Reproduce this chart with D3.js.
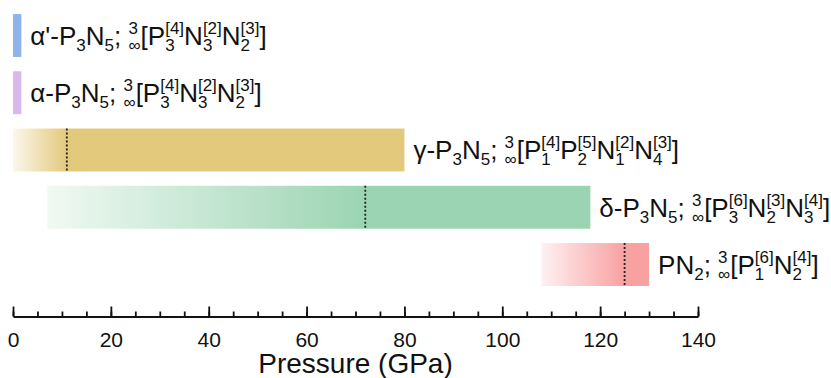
<!DOCTYPE html>
<html>
<head>
<meta charset="utf-8">
<script src="https://cdn.jsdelivr.net/npm/d3@7"></script>
<style>
  body { margin: 0; background: #fff; }
  svg { display: block; font-family: "Liberation Sans", Arial, sans-serif; }
</style>
</head>
<body>
<div id="chart"></div>
<script>
// phases, pressure ranges (GPa) and the pressure where each one is fully formed
const phases = ["a1", "a0", "g", "d", "pn2"];
const rangeStart = [0, 0, 0, 7, 108];
const rangeEnd = [1.7, 1.7, 80, 118, 130];
const fadeEnd = [null, null, 11, 72, 125];
const colors = ["#8db5ea", "#d7b9ee", "#e3c97c", "#9bd4b2", "#f8a1a1"];
const ticks = [0, 20, 40, 60, 80, 100, 120, 140];

// label pieces: plain text, [sub], or {sup, sub} stacked
const labels = [
  ["α'-P", ["3"], "N", ["5"], "; ", { sup: "3", sub: "∞" }, "[P", { sup: "[4]", sub: "3" }, "N", { sup: "[2]", sub: "3" }, "N", { sup: "[3]", sub: "2" }, "]"],
  ["α-P", ["3"], "N", ["5"], "; ", { sup: "3", sub: "∞" }, "[P", { sup: "[4]", sub: "3" }, "N", { sup: "[2]", sub: "3" }, "N", { sup: "[3]", sub: "2" }, "]"],
  ["γ-P", ["3"], "N", ["5"], "; ", { sup: "3", sub: "∞" }, "[P", { sup: "[4]", sub: "1" }, "P", { sup: "[5]", sub: "2" }, "N", { sup: "[2]", sub: "1" }, "N", { sup: "[3]", sub: "4" }, "]"],
  ["δ-P", ["3"], "N", ["5"], "; ", { sup: "3", sub: "∞" }, "[P", { sup: "[6]", sub: "3" }, "N", { sup: "[3]", sub: "2" }, "N", { sup: "[4]", sub: "3" }, "]"],
  ["PN", ["2"], "; ", { sup: "3", sub: "∞" }, "[P", { sup: "[6]", sub: "1" }, "N", { sup: "[4]", sub: "2" }, "]"]
];

const width = 831;
const height = 378;

const x = d3.scaleLinear().domain([0, 140]).range([13, 698]);
const y = d3.scaleBand().domain(phases).range([14, 286]).paddingInner(0.25).paddingOuter(0);

const svg = d3.select("#chart").append("svg")
  .attr("width", width)
  .attr("height", height);

const defs = svg.append("defs");

phases.forEach((p, i) => {
  if (fadeEnd[i] == null) return;
  const g = defs.append("linearGradient")
    .attr("id", "grad-" + p)
    .attr("gradientUnits", "userSpaceOnUse")
    .attr("x1", x(rangeStart[i])).attr("x2", x(fadeEnd[i]))
    .attr("y1", 0).attr("y2", 0);
  g.append("stop").attr("offset", 0).attr("stop-color", d3.interpolateRgb("#fff", colors[i])(0.15));
  g.append("stop").attr("offset", 1).attr("stop-color", colors[i]);
});

// bars
svg.append("g").selectAll("rect")
  .data(phases)
  .join("rect")
  .attr("x", (d, i) => x(rangeStart[i]))
  .attr("width", (d, i) => x(rangeEnd[i]) - x(rangeStart[i]))
  .attr("y", d => y(d))
  .attr("height", y.bandwidth())
  .attr("fill", (d, i) => fadeEnd[i] == null ? colors[i] : `url(#grad-${d})`);

// dotted lines at the pressure of full formation
svg.append("g").selectAll("line")
  .data(phases.filter((d, i) => fadeEnd[i] != null))
  .join("line")
  .attr("x1", d => x(fadeEnd[phases.indexOf(d)]))
  .attr("x2", d => x(fadeEnd[phases.indexOf(d)]))
  .attr("y1", d => y(d))
  .attr("y2", d => y(d) + y.bandwidth())
  .attr("stroke", "#222")
  .attr("stroke-width", 1.8)
  .attr("stroke-dasharray", "2,2");

// labels: one text per phase, tspans placed by measured widths
const fs = 26;
const small = 17;
const measure = svg.append("text").attr("visibility", "hidden").style("white-space", "pre");
function textWidth(s, size) {
  measure.attr("font-size", size).text(s);
  return measure.node().getComputedTextLength();
}

phases.forEach((p, i) => {
  const base = y(p) + y.bandwidth() / 2 + fs * 0.36;
  const t = svg.append("text").attr("fill", "#111").style("white-space", "pre");
  let cx = x(rangeEnd[i]) + 9;
  labels[i].forEach(piece => {
    if (typeof piece === "string") {
      t.append("tspan").attr("x", cx).attr("y", base).attr("font-size", fs).text(piece);
      cx += textWidth(piece, fs);
    } else if (Array.isArray(piece)) {
      t.append("tspan").attr("x", cx).attr("y", base + 6).attr("font-size", small).text(piece[0]);
      cx += textWidth(piece[0], small);
    } else {
      t.append("tspan").attr("x", cx).attr("y", base - 11).attr("font-size", small).text(piece.sup);
      t.append("tspan").attr("x", cx).attr("y", base + 6).attr("font-size", small).text(piece.sub);
      cx += Math.max(textWidth(piece.sup, small), textWidth(piece.sub, small));
    }
  });
});
measure.remove();

// axis
const axisY = 316.5;
svg.append("g")
  .attr("transform", `translate(0,${axisY})`)
  .call(d3.axisBottom(x).tickValues(d3.range(0, 141, 5)).tickSizeInner(-5).tickSizeOuter(0).tickFormat(""))
  .call(g => g.selectAll("path, line").attr("stroke", "#111").attr("stroke-width", 1.8));

svg.append("g")
  .attr("transform", `translate(0,${axisY})`)
  .call(d3.axisBottom(x).tickValues(ticks).tickSizeInner(-10).tickSizeOuter(0).tickPadding(16))
  .call(g => g.select(".domain").remove())
  .call(g => g.selectAll("line").attr("stroke", "#111").attr("stroke-width", 1.8))
  .call(g => g.selectAll("text").attr("font-size", 21).attr("fill", "#111")
    .attr("font-family", "'Liberation Sans', Arial, sans-serif"));

svg.append("text")
  .attr("x", x(70))
  .attr("y", 373)
  .attr("text-anchor", "middle")
  .attr("font-size", 28)
  .attr("fill", "#111")
  .text("Pressure (GPa)");
</script>
</body>
</html>
